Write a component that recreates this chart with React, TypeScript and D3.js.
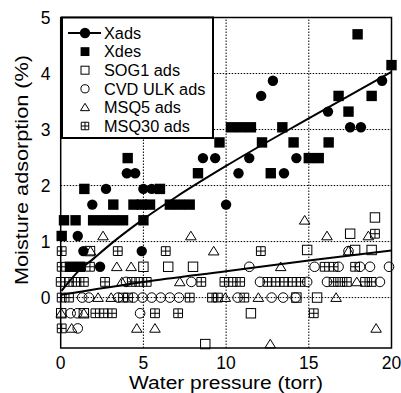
import * as d3 from "d3";
import React from "react";

type Pt = [number, number];

// values (torr, %)
const xadsPts: Pt[] = [
  [1.03, 1.1], [1.37, 0.83], [2.38, 0.55], [4.9, 0.83], [1.91, 1.66], [10.0, 1.66],
  [2.74, 1.94], [5.0, 1.94], [5.5, 1.94], [4.0, 2.22], [4.5, 2.22], [10.75, 2.22],
  [13.5, 2.22], [8.6, 2.49], [9.34, 2.49], [11.4, 2.49], [14.25, 2.49], [12.12, 3.6],
  [12.83, 3.87], [16.16, 3.32], [17.5, 3.04], [18.15, 3.04], [19.43, 3.87],
];

const xdesPts: Pt[] = [
  [0.06, 1.1], [0.2, 1.38], [0.9, 1.38], [1.96, 1.38], [2.56, 1.38], [3.17, 1.38],
  [3.77, 1.38], [5.0, 1.38], [0.56, 0.55], [1.17, 0.55], [1.43, 1.94], [6.0, 1.94],
  [4.05, 2.49], [3.18, 1.66], [4.4, 1.66], [4.9, 1.66], [5.4, 1.66], [6.6, 1.66],
  [7.2, 1.66], [7.8, 1.66], [8.3, 2.22], [9.6, 2.77], [10.3, 3.04], [10.9, 3.04],
  [11.5, 3.04], [12.7, 2.22], [12.17, 2.77], [13.4, 3.04], [14.08, 2.77], [15.0, 2.49],
  [15.6, 2.49], [16.2, 2.77], [16.8, 3.6], [17.4, 3.32], [17.95, 4.7], [18.8, 3.6],
  [20.0, 4.15],
];

const sog1Pts: Pt[] = [
  [19.0, 1.43], [17.5, 1.14], [1.77, 0.83], [14.9, 0.85], [17.8, 0.85], [18.8, 0.85],
  [5.0, 0.55], [6.5, 0.55], [8.0, 0.55], [14.25, 0], [15.5, 0], [0.03, -0.28],
  [1.4, -0.28], [11.5, -0.28], [8.74, -0.83],
];

const cvdPts: Pt[] = [
  [17.4, 0.83], [11.4, 0.55], [15.35, 0.55], [16.8, 0.55], [18.1, 0.55], [18.7, 0.55],
  [19.85, 0.55], [3.95, 0.28], [7.9, 0.28], [12.05, 0.28], [14.9, 0.28], [16.1, 0.28],
  [19.3, 0.28], [1.3, 0], [1.7, 0], [3.47, 0], [4.4, 0], [4.95, 0], [5.5, 0],
  [6.05, 0], [6.6, 0], [7.15, 0], [10.7, 0], [12.75, 0], [13.45, 0], [14.2, 0],
  [0.6, -0.28], [1.0, -0.28], [4.8, -0.28], [1.03, -0.55],
];

const msq5Pts: Pt[] = [
  [2.56, 1.1], [7.87, 1.1], [16.1, 1.1], [18.6, 1.1], [14.75, 1.38], [9.25, 0.83],
  [17.4, 0.83], [1.8, 0.83], [0.97, 0.55], [3.39, 0.55], [4.26, 0.55], [13.3, 0.55],
  [3.7, 0.28], [7.2, 0.28], [17.9, 0.28], [2.26, 0], [3.05, 0], [9.95, 0], [11.95, 0],
  [16.65, 0], [0.03, -0.28], [1.4, -0.28], [0.66, -0.55], [4.6, -0.55], [5.7, -0.55],
  [19.07, -0.55], [12.67, -0.83],
];

const msq30Pts: Pt[] = [
  [0.06, 0.83], [3.45, 0.83], [6.35, 0.83], [12.1, 0.83], [19.0, 1.14],
  [0.06, 0.55], [1.77, 0.55], [15.96, 0.55], [16.5, 0.55], [17.8, 0.55],
  [0.0, 0.28], [0.5, 0.28], [0.95, 0.28], [1.4, 0.28], [2.68, 0.28], [4.3, 0.28],
  [4.75, 0.28], [5.2, 0.28], [8.5, 0.28], [9.9, 0.28], [10.4, 0.28], [10.85, 0.28],
  [12.5, 0.28], [13.0, 0.28], [13.5, 0.28], [14.0, 0.28], [14.5, 0.28], [16.5, 0.28],
  [16.9, 0.28], [17.3, 0.28], [18.4, 0.28], [18.8, 0.28],
  [0.06, 0], [0.5, 0], [3.77, 0], [4.07, 0], [7.8, 0], [9.15, 0], [9.5, 0], [11.1, 0],
  [2.1, -0.28], [2.6, -0.28], [3.1, -0.28], [5.7, -0.28], [7.1, -0.28], [15.3, -0.28],
  [0.06, -0.55],
];

// the two drawn curves
const xadsFit: Pt[] = [
  [0.05, 0.12], [1, 0.45], [2, 0.7], [3, 0.95], [5, 1.4], [7, 1.8], [10, 2.35], [15, 3.2], [20, 4.03],
];
const lowFit: Pt[] = [[0, 0.05], [5, 0.28], [10, 0.47], [15, 0.66], [20, 0.84]];

const xTicks = [0, 5, 10, 15, 20];
const yTicks = [0, 1, 2, 3, 4, 5];
const xGrid = [5, 10, 15];
const yGrid = [0, 1, 2, 3, 4];

const legendItems = [
  { label: "Xads", kind: "xads" },
  { label: "Xdes", kind: "xdes" },
  { label: "SOG1 ads", kind: "sog" },
  { label: "CVD ULK ads", kind: "cvd" },
  { label: "MSQ5 ads", kind: "msq5" },
  { label: "MSQ30 ads", kind: "msq30" },
];

const W = 401;
const H = 393;
const FONT = "'Liberation Sans', Arial, Helvetica, sans-serif";

const x = d3.scaleLinear().domain([0, 20]).range([60.7, 391.5]);
const y = d3.scaleLinear().domain([-0.9, 5]).range([348, 17.5]);

const marker = (kind: string, cx: number, cy: number, key: string, s = 1) => {
  switch (kind) {
    case "xads":
      return <circle key={key} cx={cx} cy={cy} r={5.2 * s} fill="#000" />;
    case "xdes":
      return <rect key={key} x={cx - 5.2 * s} y={cy - 5.2 * s} width={10.4 * s} height={10.4 * s} fill="#000" />;
    case "sog":
      return (
        <rect key={key} x={cx - 4.7 * s} y={cy - 4.7 * s} width={9.4 * s} height={9.4 * s}
          fill="none" stroke="#000" strokeWidth={1} />
      );
    case "cvd":
      return <circle key={key} cx={cx} cy={cy} r={4.8 * s} fill="none" stroke="#000" strokeWidth={1} />;
    case "msq5": {
      const h = 4.8 * s;
      return (
        <path key={key} d={`M${cx},${cy - h}L${cx + h * 1.1},${cy + h * 0.8}L${cx - h * 1.1},${cy + h * 0.8}Z`}
          fill="none" stroke="#000" strokeWidth={1} />
      );
    }
    default: {
      const h = 4.4 * s;
      return (
        <path key={key}
          d={`M${cx - h},${cy - h}h${2 * h}v${2 * h}h${-2 * h}Z M${cx},${cy - h}v${2 * h} M${cx - h},${cy}h${2 * h}`}
          fill="none" stroke="#000" strokeWidth={1} />
      );
    }
  }
};

const series: { kind: string; pts: Pt[] }[] = [
  { kind: "msq30", pts: msq30Pts },
  { kind: "msq5", pts: msq5Pts },
  { kind: "cvd", pts: cvdPts },
  { kind: "sog", pts: sog1Pts },
  { kind: "xdes", pts: xdesPts },
  { kind: "xads", pts: xadsPts },
];

export default function App() {
  const line = d3
    .line<Pt>()
    .x((d) => x(d[0]))
    .y((d) => y(d[1]))
    .curve(d3.curveMonotoneX);

  const [x0, x1] = x.range();
  const [yb, yt] = y.range();

  const lgX = 62;
  const lgY = 17.5;
  const rowY = (i: number) => 33 + i * 18.6;

  return (
    <svg width={W} height={H} style={{ position: "absolute", left: 0, top: 0, background: "#fff" }}
      fontFamily={FONT}>
      <rect width={W} height={H} fill="#fff" />
      {/* dotted grid */}
      {xGrid.map((t) => (
        <line key={"gx" + t} x1={x(t)} x2={x(t)} y1={yb} y2={yt} stroke="#000" strokeWidth={1}
          strokeDasharray="1.5,1.5" />
      ))}
      {yGrid.map((t) => (
        <line key={"gy" + t} x1={x0} x2={x1} y1={y(t)} y2={y(t)} stroke="#000" strokeWidth={1}
          strokeDasharray="1.5,1.5" />
      ))}

      <path d={line(lowFit) || ""} fill="none" stroke="#000" strokeWidth={2} />
      <path d={line(xadsFit) || ""} fill="none" stroke="#000" strokeWidth={2} />

      {series.map((s) => s.pts.map((p, i) => marker(s.kind, x(p[0]), y(p[1]), s.kind + i)))}

      <rect x={x0} y={yt} width={x1 - x0} height={yb - yt} fill="none" stroke="#000" strokeWidth={1.5} />

      {/* legend */}
      <rect x={lgX} y={lgY} width={151} height={120.5} fill="#fff" stroke="#000" strokeWidth={2} />
      {legendItems.map((d, i) => (
        <g key={d.label}>
          {d.kind === "xads" && (
            <line x1={68} x2={101} y1={rowY(i)} y2={rowY(i)} stroke="#000" strokeWidth={2} />
          )}
          {marker(d.kind, 85, rowY(i), "lg" + i, d.kind === "xads" ? 1 : 0.85)}
          <text x={104} y={rowY(i) + 5.8} fontSize={16.3}>{d.label}</text>
        </g>
      ))}

      {/* tick labels */}
      {xTicks.map((t) => (
        <text key={"xt" + t} x={x(t)} y={369} fontSize={17.5} textAnchor="middle">{t}</text>
      ))}
      {yTicks.map((t) => (
        <text key={"yt" + t} x={50.5} y={y(t) + 6.2} fontSize={17.5} textAnchor="end">{t}</text>
      ))}

      <text x={(x0 + x1) / 2} y={388.5} fontSize={17.5} textAnchor="middle" textLength={194}
        lengthAdjust="spacingAndGlyphs">Water pressure (torr)</text>
      <text transform={`translate(28,170) rotate(-90)`} fontSize={18.5} textAnchor="middle"
        textLength={230} lengthAdjust="spacingAndGlyphs">Moisture adsorption (%)</text>
    </svg>
  );
}
